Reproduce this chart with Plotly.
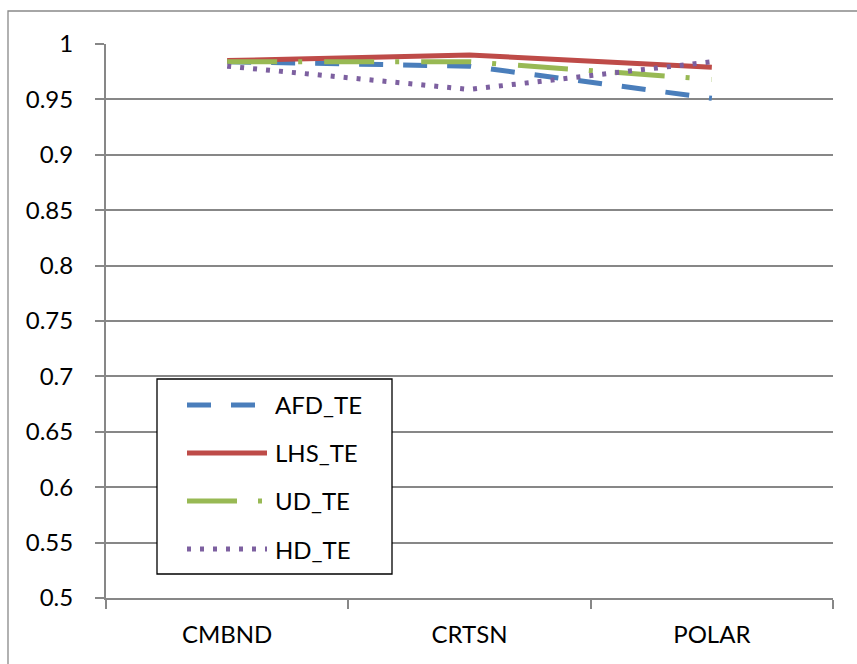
import plotly.graph_objects as go

# Categories and series values
categories = ["CMBND", "CRTSN", "POLAR"]
afd_te = [0.984, 0.980, 0.951]
lhs_te = [0.985, 0.990, 0.979]
ud_te = [0.984, 0.984, 0.968]
hd_te = [0.980, 0.959, 0.984]

y_ticks = [0.5, 0.55, 0.6, 0.65, 0.7, 0.75, 0.8, 0.85, 0.9, 0.95, 1.0]

series = [
    ("AFD_TE", afd_te, "#4A7EBB", "24px,20px"),
    ("LHS_TE", lhs_te, "#BE4B48", "solid"),
    ("UD_TE", ud_te, "#98B954", "50px,21px,4px,22px"),
    ("HD_TE", hd_te, "#7D60A0", "4px,9px"),
]

W, H = 857, 664
ML, MR, MT, MB = 106, 24, 44, 66
PW, PH = W - ML - MR, H - MT - MB


def px_x(p):
    return (p - ML) / PW


def px_y(p):
    return (H - MB - p) / PH


GRID = "#878787"
FONT = dict(family="Lato, 'Open Sans', sans-serif", size=24, color="black")
LW = 5

fig = go.Figure()

for name, vals, color, dash in series:
    fig.add_trace(go.Scatter(
        x=categories, y=vals, mode="lines", name=name,
        line=dict(color=color, width=LW, dash=dash),
        showlegend=False,
    ))

# Legend drawn in an inset subplot so the line samples are long enough
# to show each dash pattern.  Inset units are pixels across the box and
# legend rows vertically.
LEG_W = 235
LEG_Y = [-25 / 48, 3 + 26 / 48]

# white backing for the legend box, hiding the gridlines underneath
fig.add_trace(go.Scatter(
    x=[0, LEG_W, LEG_W, 0, 0], y=[LEG_Y[0], LEG_Y[0], LEG_Y[1], LEG_Y[1], LEG_Y[0]],
    mode="lines", fill="toself", fillcolor="white", line=dict(width=0),
    xaxis="x2", yaxis="y2", showlegend=False, hoverinfo="skip",
))

legend_rows = [3, 2, 1, 0]
for (name, vals, color, dash), row in zip(series, legend_rows):
    fig.add_trace(go.Scatter(
        x=[30, 110], y=[row, row], mode="lines",
        line=dict(color=color, width=LW, dash=dash),
        xaxis="x2", yaxis="y2", showlegend=False, hoverinfo="skip",
    ))
    fig.add_annotation(
        x=116, y=row, xref="x2", yref="y2", text=name, showarrow=False,
        xanchor="left", yanchor="middle", font=FONT,
    )

box_x0, box_x1 = px_x(157), px_x(392)
box_y0, box_y1 = px_y(574), px_y(379)

fig.update_layout(
    width=W, height=H,
    margin=dict(l=ML, r=MR, t=MT, b=MB),
    paper_bgcolor="white", plot_bgcolor="white",
    font=FONT,
    xaxis=dict(
        type="category", range=[-0.5, 2.5], tickson="boundaries",
        ticks="outside", ticklen=9, tickwidth=1.5, tickcolor=GRID,
        showline=True, linecolor=GRID, linewidth=2,
        showgrid=False, zeroline=False, ticklabelstandoff=14,
    ),
    yaxis=dict(
        range=[0.5, 1.0], tickvals=y_ticks,
        ticks="outside", ticklen=9, tickwidth=1.5, tickcolor=GRID,
        showline=True, linecolor=GRID, linewidth=2,
        showgrid=True, gridcolor=GRID, gridwidth=1.5, zeroline=False,
        ticklabelstandoff=17,
    ),
    xaxis2=dict(
        domain=[box_x0, box_x1], range=[0, LEG_W], visible=False,
        fixedrange=True,
    ),
    yaxis2=dict(
        domain=[box_y0, box_y1], range=LEG_Y,
        visible=False, fixedrange=True, anchor="x2",
    ),
    shapes=[
        # legend frame
        dict(type="rect", xref="paper", yref="paper",
             x0=box_x0, x1=box_x1, y0=box_y0, y1=box_y1, layer="above",
             line=dict(color="black", width=1.3)),
        # outer chart frame
        dict(type="rect", xref="paper", yref="paper",
             x0=px_x(8), x1=px_x(870), y0=px_y(680), y1=px_y(11),
             layer="above", line=dict(color="#898989", width=1.3)),
    ],
)

fig.write_html("out.html")
